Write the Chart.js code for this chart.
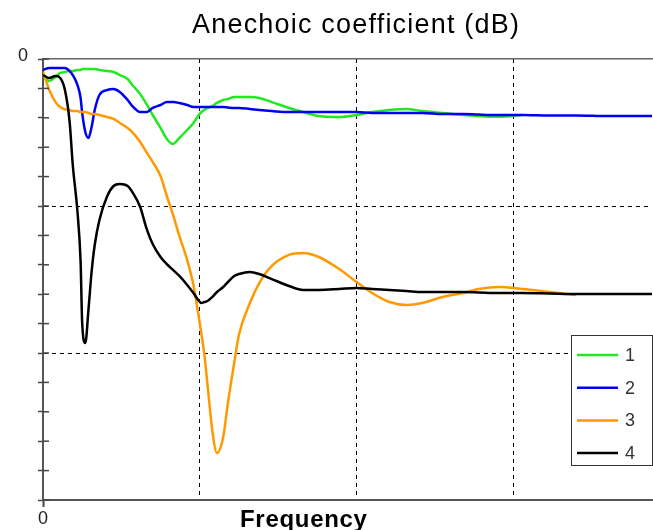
<!DOCTYPE html>
<html><head><meta charset="utf-8">
<script src="https://cdn.jsdelivr.net/npm/chart.js@4"></script>
<style>html,body{margin:0;padding:0;background:#fff;}canvas{display:block;}</style>
</head><body>
<canvas id="c" width="653" height="530"></canvas>
<script>
const chartTitle = 'Anechoic coefficient (dB)';
const xAxisTitle = 'Frequency';
const seriesNames = ['1', '2', '3', '4'];
const seriesColors = ['#22e822', '#0000f0', '#ff9900', '#000000'];

const freq = [0.00,0.04,0.08,0.11,0.14,0.17,0.19,0.22,0.24,0.25,0.27,0.29,0.31,0.33,0.36,0.41,0.45,0.49,0.54,0.57,
  0.62,0.66,0.70,0.75,0.79,0.83,0.87,0.92,0.96,0.99,1.01,1.03,1.05,1.08,1.11,1.15,1.18,1.22,1.25,1.32,
  1.38,1.46,1.57,1.66,1.76,1.89,2.00,2.10,2.21,2.32,2.42,2.55,2.68,2.78,2.91,3.06,3.23,3.40,3.61,3.89];

const series1 = [-1.16,-1.50,-1.22,-0.95,-0.88,-0.82,-0.82,-0.75,-0.75,-0.68,-0.68,-0.68,-0.68,-0.68,-0.75,-0.82,-0.88,-1.09,-1.36,-1.77,
  -2.38,-3.06,-3.81,-4.69,-5.44,-5.78,-5.37,-4.83,-4.35,-3.88,-3.61,-3.47,-3.33,-3.20,-2.99,-2.79,-2.72,-2.59,-2.59,-2.59,
  -2.65,-2.93,-3.33,-3.61,-3.88,-3.95,-3.81,-3.61,-3.47,-3.40,-3.54,-3.67,-3.81,-3.88,-3.93,-3.81,null,null,null,null];

const series2 = [-0.75,-0.61,-0.61,-0.61,-0.61,-0.82,-1.09,-1.77,-2.65,-3.67,-4.97,-5.37,-4.63,-3.47,-2.45,-2.11,-2.04,-2.24,-2.79,-3.20,
  -3.61,-3.61,-3.33,-3.13,-2.93,-2.93,-2.99,-3.13,-3.27,-3.27,-3.27,-3.27,-3.27,-3.27,-3.27,-3.27,-3.30,-3.33,-3.33,-3.40,
  -3.47,-3.54,-3.61,-3.61,-3.61,-3.61,-3.61,-3.67,-3.67,-3.67,-3.67,-3.74,-3.74,-3.78,-3.81,-3.81,-3.84,-3.84,-3.88,-3.88];

const series3 = [-0.88,-2.11,-2.93,-3.27,-3.43,-3.47,-3.54,-3.54,-3.61,-3.61,-3.61,-3.67,-3.74,-3.74,-3.81,-3.95,-4.08,-4.35,-4.69,-4.97,
  -5.65,-6.33,-7.00,-7.96,-9.32,-10.61,-12.04,-13.67,-15.37,-17.28,-18.64,-20.14,-22.18,-25.24,-26.80,-25.71,-23.40,-20.68,-18.78,-16.60,
  -15.24,-14.08,-13.33,-13.20,-13.47,-14.29,-15.17,-15.92,-16.53,-16.73,-16.60,-16.19,-15.92,-15.65,-15.51,-15.65,-15.85,-16.05,null,null];

const series4 = [-1.09,-1.29,-1.16,-1.29,-2.11,-4.29,-7.21,-10.41,-13.81,-17.96,-19.32,-17.07,-14.49,-12.65,-10.95,-9.32,-8.64,-8.50,-8.64,-9.05,
  -10.07,-11.50,-12.59,-13.47,-13.95,-14.35,-14.76,-15.37,-15.92,-16.39,-16.60,-16.53,-16.46,-16.19,-15.85,-15.51,-15.17,-14.76,-14.63,-14.49,
  -14.63,-14.97,-15.44,-15.71,-15.71,-15.65,-15.58,-15.65,-15.71,-15.78,-15.85,-15.85,-15.85,-15.88,-15.92,-15.92,-15.95,-15.99,-15.99,-15.99];

const yMin = -30, yMax = 0, yStep = 2, yMajor = 10;
const xMin = 0, xMax = 3.886, xStep = 1;

const allSeries = [series1, series2, series3, series4];
const drawOrder = [4, 3, 2, 1];

const datasets = allSeries.map((vals, i) => ({
  label: seriesNames[i],
  data: freq.map((f, k) => ({x: f, y: vals[k]})),
  borderColor: seriesColors[i],
  backgroundColor: seriesColors[i],
  borderWidth: 2.5,
  pointRadius: 0,
  fill: false,
  spanGaps: false,
  cubicInterpolationMode: 'monotone',
  order: drawOrder[i]
}));

const decor = {
  id: 'decor',
  afterDraw(chart) {
    const ctx = chart.ctx, ca = chart.chartArea;
    const ys = chart.scales.y;
    ctx.save();
    // inner halves of the y tick marks
    ctx.strokeStyle = '#444';
    ctx.lineWidth = 1.5;
    ys.ticks.forEach(t => {
      const py = ys.getPixelForValue(t.value);
      ctx.beginPath();
      ctx.moveTo(ca.left, py);
      ctx.lineTo(ca.left + 6, py);
      ctx.stroke();
    });
    // chart title
    ctx.fillStyle = '#000';
    ctx.font = '27px "Liberation Sans", Arial, sans-serif';
    ctx.letterSpacing = '1.2px';
    ctx.textAlign = 'left';
    ctx.textBaseline = 'alphabetic';
    ctx.fillText(chartTitle, 192, 33);
    // x axis title
    ctx.font = 'bold 24px "Liberation Sans", Arial, sans-serif';
    ctx.letterSpacing = '0.7px';
    ctx.fillText(xAxisTitle, 240, 527);
    ctx.letterSpacing = '0px';
    // legend
    const bx = 571, by = 335, bw = 81, bh = 130;
    ctx.fillStyle = '#fff';
    ctx.fillRect(bx, by, bw, bh);
    ctx.strokeStyle = '#333';
    ctx.lineWidth = 1;
    ctx.strokeRect(bx + 0.5, by + 0.5, bw, bh);
    ctx.font = '18px "Liberation Sans", Arial, sans-serif';
    ctx.textBaseline = 'middle';
    chart.data.datasets.forEach((ds, i) => {
      const ry = by + 20 + i * 32.7;
      ctx.strokeStyle = ds.borderColor;
      ctx.lineWidth = 2.5;
      ctx.beginPath();
      ctx.moveTo(577, ry);
      ctx.lineTo(618, ry);
      ctx.stroke();
      ctx.fillStyle = '#333';
      ctx.fillText(ds.label, 625, ry + 1);
    });
    ctx.restore();
  }
};

new Chart(document.getElementById('c'), {
  type: 'line',
  data: { datasets },
  options: {
    responsive: false,
    animation: false,
    devicePixelRatio: 1,
    layout: { padding: { top: 59, left: 0, right: 0, bottom: 0 } },
    plugins: { legend: { display: false }, title: { display: false }, tooltip: { enabled: false } },
    scales: {
      x: {
        type: 'linear', position: 'bottom', min: xMin, max: xMax,
        afterFit: s => { s.height = 30; },
        ticks: {
          stepSize: xStep, autoSkip: false, maxRotation: 0, padding: 1,
          color: '#222',
          font: { family: '"Liberation Sans", Arial, sans-serif', size: 18 },
          callback: v => (v === 0 ? '0' : '')
        },
        grid: {
          drawOnChartArea: true, drawTicks: true, tickLength: 7,
          color: c => (c.tick && Number.isInteger(c.tick.value) && c.tick.value > 0) ? '#000' : 'rgba(0,0,0,0)',
          lineWidth: 1,
          tickColor: c => (c.tick && c.tick.value === 0) ? '#444' : 'rgba(0,0,0,0)',
          tickWidth: 2
        },
        border: { display: true, color: '#555', width: 2, dash: [4, 4] }
      },
      xTop: {
        type: 'linear', position: 'top', min: xMin, max: xMax, axis: 'x',
        afterFit: s => { s.height = 0; },
        ticks: { display: false },
        grid: { drawOnChartArea: false, drawTicks: false },
        border: { display: true, color: '#666', width: 1.5 }
      },
      y: {
        type: 'linear', position: 'left', min: yMin, max: yMax,
        afterFit: s => { s.width = 43; },
        ticks: {
          stepSize: yStep, autoSkip: false, padding: 10, labelOffset: -3,
          color: '#222',
          font: { family: '"Liberation Sans", Arial, sans-serif', size: 18 },
          callback: v => (v === 0 ? '0' : '')
        },
        grid: {
          drawOnChartArea: true, drawTicks: true, tickLength: 5,
          color: c => (c.tick && c.tick.value % yMajor === 0 && c.tick.value > yMin && c.tick.value < yMax) ? '#000' : 'rgba(0,0,0,0)',
          lineWidth: 1,
          tickColor: '#444',
          tickWidth: 1.5
        },
        border: { display: true, color: '#555', width: 2, dash: [4, 4] }
      }
    }
  },
  plugins: [decor]
});
</script>
</body></html>
